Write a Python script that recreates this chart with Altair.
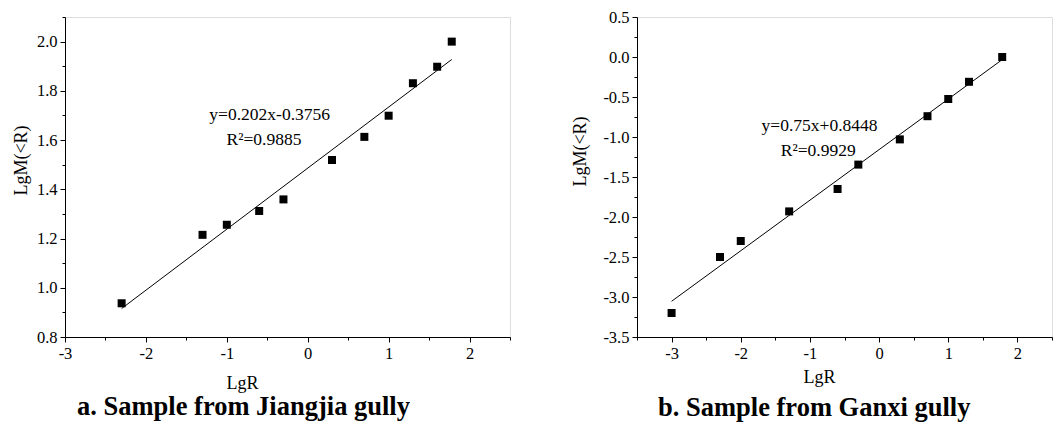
import altair as alt
import pandas as pd

# ---- data ----
jiang_x = [-2.3, -1.3, -1.0, -0.6, -0.3, 0.3, 0.7, 1.0, 1.3, 1.6, 1.78]
jiang_y = [0.937, 1.215, 1.256, 1.312, 1.359, 1.519, 1.613, 1.699, 1.831, 1.898, 2.0]
ganxi_x = [-3.0, -2.3, -2.0, -1.3, -0.6, -0.3, 0.3, 0.7, 1.0, 1.3, 1.78]
ganxi_y = [-3.2, -2.5, -2.3, -1.93, -1.65, -1.345, -1.03, -0.74, -0.525, -0.31, 0.0]

jiang_eq = ["y=0.202x-0.3756", "R²=0.9885"]
ganxi_eq = ["y=0.75x+0.8448", "R²=0.9929"]
jiang_eq_x = [-0.47, -0.54]
jiang_eq_y = [1.70, 1.60]
ganxi_eq_x = [-0.86, -0.88]
ganxi_eq_y = [-0.865, -1.18]

jiang_x_major = [-3, -2, -1, 0, 1, 2]
jiang_x_minor = [-2.5, -1.5, -0.5, 0.5, 1.5, 2.5]
jiang_y_major = [0.8, 1.0, 1.2, 1.4, 1.6, 1.8, 2.0]
jiang_y_minor = [0.9, 1.1, 1.3, 1.5, 1.7, 1.9, 2.1]
ganxi_x_major = [-3, -2, -1, 0, 1, 2]
ganxi_x_minor = [-3.5, -2.5, -1.5, -0.5, 0.5, 1.5, 2.5]
ganxi_y_major = [-3.5, -3.0, -2.5, -2.0, -1.5, -1.0, -0.5, 0.0, 0.5]
ganxi_y_minor = [-3.25, -2.75, -2.25, -1.75, -1.25, -0.75, -0.25, 0.25]

FONT = "Liberation Serif"
HYPHEN = "replace(datum.label, '\u2212', '-')"

COMMON = dict(grid=False, domainColor="black", tickColor="black", labelColor="black",
              labelFont=FONT, labelFontSize=16.5, titleFont=FONT, titleFontSize=18,
              titleFontWeight="normal", titleColor="black", labelPadding=3,
              labelOverlap=False, labelFlush=False, labelExpr=HYPHEN)


def panel(xs, ys, eq, eqx, eqy, xdom, ydom, xmaj, xmin, ymaj, ymin, w,
          xtitle_pos, ytitle_pos, caption, cap_dx, cap_off):
    df = pd.DataFrame({"x": xs, "y": ys})
    ann = pd.DataFrame({"t": eq, "x": eqx, "y": eqy})
    xs_ = alt.Scale(domain=xdom, nice=False, zero=False)
    ys_ = alt.Scale(domain=ydom, nice=False, zero=False)
    x_major = alt.Axis(values=xmaj, format=".0f", orient="bottom", tickSize=5,
                       title="LgR", titleX=xtitle_pos[0], titleY=xtitle_pos[1],
                       titleAlign="center", titleBaseline="alphabetic", **COMMON)
    y_major = alt.Axis(values=ymaj, format=".1f", orient="left", tickSize=5,
                       title="LgM(<R)", titleX=ytitle_pos[0], titleY=ytitle_pos[1],
                       titleAlign="center", titleBaseline="middle", **COMMON)
    x_minor = alt.Axis(values=xmin, orient="bottom", tickSize=3, labels=False,
                       domain=False, grid=False, tickColor="black", title=None)
    y_minor = alt.Axis(values=ymin, orient="left", tickSize=3, labels=False,
                       domain=False, grid=False, tickColor="black", title=None)

    pts = alt.Chart(df).mark_point(shape="square", filled=True, color="black",
                                   size=64, opacity=1).encode(
        x=alt.X("x:Q", scale=xs_, axis=x_major),
        y=alt.Y("y:Q", scale=ys_, axis=y_major))
    fit = alt.Chart(df).transform_regression("x", "y").mark_line(
        color="black", strokeWidth=1).encode(
        x=alt.X("x:Q", scale=xs_, axis=x_minor),
        y=alt.Y("y:Q", scale=ys_, axis=y_minor))
    txt = alt.Chart(ann).mark_text(font=FONT, fontSize=17.5, color="black").encode(
        x=alt.X("x:Q", scale=xs_, axis=None), y=alt.Y("y:Q", scale=ys_, axis=None),
        text="t:N")
    return alt.layer(pts, fit, txt).resolve_axis(x="independent", y="independent").properties(
        width=w, height=320,
        title=alt.TitleParams(caption, orient="bottom", anchor="start", frame="group",
                              dx=cap_dx, offset=cap_off, baseline="alphabetic",
                              font=FONT, fontSize=26.5, fontWeight="bold", color="black"))


left = panel(jiang_x, jiang_y, jiang_eq, jiang_eq_x, jiang_eq_y, [-3, 2.5], [0.8, 2.1],
             jiang_x_major, jiang_x_minor, jiang_y_major, jiang_y_minor, 445,
             (177, 51), (-44, 143), "a. Sample from Jiangjia gully", 12, 23)
right = panel(ganxi_x, ganxi_y, ganxi_eq, ganxi_eq_x, ganxi_eq_y, [-3.5, 2.5], [-3.5, 0.5],
              ganxi_x_major, ganxi_x_minor, ganxi_y_major, ganxi_y_minor, 415,
              (182, 45), (-57, 134), "b. Sample from Ganxi gully", 21, 30)

chart = alt.hconcat(left, right, spacing=59).properties(
    padding={"left": 11, "top": 8, "right": 5, "bottom": 5}
).configure_view(stroke="transparent").configure(background="white")

chart.save("out.html", embed_options={"renderer": "svg", "actions": False})
